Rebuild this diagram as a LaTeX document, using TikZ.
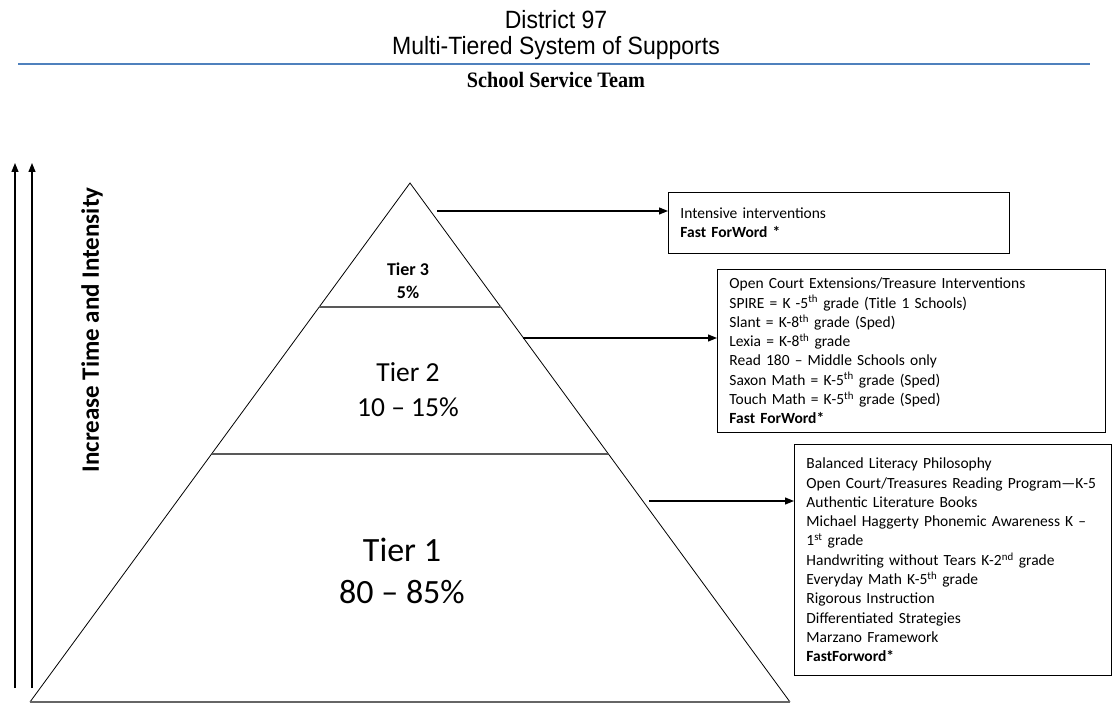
\documentclass[tikz,border=0pt]{standalone}
\usepackage{graphicx}
\usepackage{fontspec}
\setmainfont{Carlito}
\newfontfamily\titlefont{Liberation Sans}
\newfontfamily\teamfont{Liberation Serif}
\usetikzlibrary{arrows.meta,calc,positioning}
\definecolor{rulecolor}{RGB}{79,129,189}
\tikzset{
  tierbox/.style={rectangle, draw, line width=0.9pt, anchor=north west,
      align=left, inner xsep=12pt, inner ysep=6pt,
      font=\fontsize{15.5}{19.3}\selectfont},
  tierarrow/.style={-{Triangle[length=9pt,width=7pt]}, line width=1.2pt},
  tierline/.style={draw=black!65, line width=1.3pt}
}

\begin{document}
\begin{tikzpicture}[x=1pt,y=-1pt]
    \useasboundingbox (0,0) rectangle (1112,703);
    % Titles
    \node (title1) at (556,20) [inner sep=0pt]
    {\scalebox{0.92}[1]{\titlefont\fontsize{25}{28}\selectfont District 97}};
    \node (title2) at (556,48) [inner sep=0pt]
    {\scalebox{0.92}[1]{\titlefont\fontsize{25}{28}\selectfont
        Multi-Tiered System of Supports}};
    \draw [rulecolor, line width=1.3pt] (18,64) -- (1090,64);
    \node (team) at (556,80) [inner sep=0pt]
    {\scalebox{0.92}[1]{\teamfont\bfseries\fontsize{22}{24}\selectfont
        School Service Team}};

    % Pyramid
    \coordinate (apex) at (410,183);
    \coordinate (baseL) at (30,702);
    \coordinate (baseR) at (790,702);
    \draw [line width=0.8pt] (baseL) -- (apex) -- (baseR);
    \draw [draw=black!60, line width=2pt] (baseL) -- (baseR);
    \draw [tierline] ($(apex)!0.239!(baseL)$) -- ($(apex)!0.239!(baseR)$);
    \draw [tierline] ($(apex)!0.522!(baseL)$) -- ($(apex)!0.522!(baseR)$);
    \node (tier3) at (408,281) [align=center,
      font=\bfseries\fontsize{18}{22.5}\selectfont] {Tier 3\\5\%};
    \node (tier2) at (408,390) [align=center,
      font=\fontsize{27.5}{35}\selectfont] {Tier 2\\10 – 15\%};
    \node (tier1) at (402,571) [align=center,
      font=\fontsize{34}{42}\selectfont] {Tier 1\\80 – 85\%};

    % Side arrows
    \coordinate (lowA) at (15,688);
    \coordinate (topA) at (15,163);
    \coordinate (lowB) at (32,688);
    \coordinate (topB) at (32,163);
    \draw [tierarrow] (lowA) -- (topA);
    \draw [tierarrow] (lowB) -- (topB);
    \node (intensity) at (92,330) [rotate=90,
      font=\bfseries\fontsize{25}{30}\selectfont] {Increase Time and Intensity};

    % Boxes
    \node (box3) [tierbox, text width=317pt, minimum height=61pt] at (668,192)
    {Intensive interventions\\ \textbf{Fast ForWord *}};
    \node (box2) [tierbox, text width=364pt, minimum height=163pt] at (717,269)
    {Open Court Extensions/Treasure Interventions\\
      SPIRE = K -5\textsuperscript{th} grade (Title 1 Schools)\\
      Slant = K-8\textsuperscript{th} grade (Sped)\\
      Lexia = K-8\textsuperscript{th} grade\\
      Read 180 – Middle Schools only\\
      Saxon Math = K-5\textsuperscript{th} grade (Sped)\\
      Touch Math = K-5\textsuperscript{th} grade (Sped)\\
      \textbf{Fast ForWord*}};
    \node (box1) [tierbox, text width=293pt, minimum height=231pt] at (794,444)
    {Balanced Literacy Philosophy\\
      Open Court/Treasures Reading Program—K-5\\
      Authentic Literature Books\\
      Michael Haggerty Phonemic Awareness K –\\
      1\textsuperscript{st} grade\\
      Handwriting without Tears K-2\textsuperscript{nd} grade\\
      Everyday Math K-5\textsuperscript{th} grade\\
      Rigorous Instruction\\
      Differentiated Strategies\\
      Marzano Framework\\
      \textbf{FastForword*}};

    % Links
    \coordinate (from3) at (437,211);
    \coordinate (from2) at (523,338);
    \coordinate (from1) at (649,501);
    \draw [tierarrow] (from3) -- (from3 -| box3.west);
    \draw [tierarrow] (from2) -- (from2 -| box2.west);
    \draw [tierarrow] (from1) -- (from1 -| box1.west);
\end{tikzpicture}
\end{document}
